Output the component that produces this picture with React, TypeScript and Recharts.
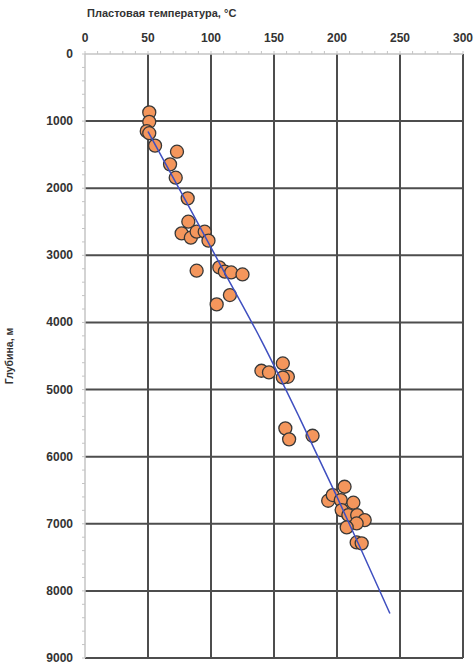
import { ScatterChart, Scatter, XAxis, YAxis, ReferenceLine } from 'recharts';

// Пластовая температура (°C) и глубина (м) по скважинам
const temps = [51, 51, 49, 51, 55.6, 73, 67.5, 72, 81.5, 82, 76.7, 84, 88.6, 95, 98, 88.6, 106.6, 111, 116, 125, 115, 104.5,
  140, 146, 157, 161, 157, 159, 162, 180.6,
  206, 193, 196.6, 203, 213, 203.7, 209, 216, 222, 215.6, 207.7, 215.6, 219.6];
const depths = [870, 1010, 1150, 1180, 1366, 1456, 1644, 1843, 2151, 2499, 2673, 2737, 2648, 2648, 2781, 3229, 3180, 3243, 3255, 3285, 3592, 3731,
  4720, 4745, 4611, 4810, 4820, 5578, 5742, 5688,
  6448, 6657, 6572, 6647, 6686, 6796, 6870, 6870, 6945, 6995, 7054, 7278, 7292];

// линия тренда
const trendT = [50, 80, 110, 140, 170, 200, 220, 242];
const trendD = [1155, 2190, 3230, 4270, 5410, 6600, 7420, 8336];

const xMajor = [0, 50, 100, 150, 200, 250, 300];
const yMajor = [0, 1000, 2000, 3000, 4000, 5000, 6000, 7000, 8000, 9000];
const xMinor = Array.from({ length: 31 }, (_, i) => i * 10);
const yMinor = Array.from({ length: 46 }, (_, i) => i * 200);

const points = temps.map((t, i) => ({ t, d: depths[i] }));
const trend = trendT.map((t, i) => ({ t, d: trendD[i] }));

const FONT = '"Liberation Sans", Arial, sans-serif';
const GRID = '#4d4d4d';
const AXIS = '#c4c4c4';

const XTick = ({ x, y, payload }: any) => {
  if (payload.value % 50 !== 0) return null;
  return (
    <text x={x} y={y - 1} textAnchor="middle" fontFamily={FONT} fontSize={12} fontWeight="bold" fill="#333">
      {payload.value}
    </text>
  );
};

const YTick = ({ x, y, payload }: any) => {
  if (payload.value % 1000 !== 0) return null;
  return (
    <text x={x} y={y + 4} textAnchor="end" fontFamily={FONT} fontSize={12} fontWeight="bold" fill="#333">
      {payload.value}
    </text>
  );
};

const Dot = ({ cx, cy }: any) => (
  <circle cx={cx} cy={cy} r={6.5} fill="#F4965C" stroke="#383838" strokeWidth={1.3} />
);

const YLabel = ({ viewBox }: any) => {
  const cy = viewBox.y + viewBox.height / 2;
  return (
    <text x={13} y={cy} transform={`rotate(-90, 13, ${cy})`} textAnchor="middle" fontFamily={FONT} fontSize={10.5} fontWeight="bold" fill="#333">
      Глубина, м
    </text>
  );
};

export default function App() {
  return (
    <div style={{ position: 'absolute', left: 0, top: 0, width: 475, height: 665, background: '#fff' }}>
      <div style={{ position: 'absolute', left: 87, top: 7, fontFamily: FONT, fontSize: 11, fontWeight: 'bold', color: '#333', whiteSpace: 'nowrap' }}>
        Пластовая температура, °С
      </div>
      <ScatterChart width={475} height={665} margin={{ top: 30, right: 12, bottom: 7, left: 0 }}>
        <XAxis
          type="number"
          dataKey="t"
          orientation="top"
          domain={[0, 300]}
          ticks={xMinor}
          interval={0}
          height={24}
          tick={<XTick />}
          tickSize={3}
          tickMargin={8}
          axisLine={{ stroke: AXIS, strokeWidth: 1.5 }}
          tickLine={{ stroke: AXIS }}
        />
        <YAxis
          type="number"
          dataKey="d"
          reversed
          domain={[0, 9000]}
          ticks={yMinor}
          interval={0}
          width={85}
          tick={<YTick />}
          tickSize={3}
          tickMargin={9}
          axisLine={{ stroke: AXIS, strokeWidth: 1.5 }}
          tickLine={{ stroke: AXIS }}
          label={<YLabel />}
        />
        {xMajor.slice(1).map((v) => (
          <ReferenceLine key={'x' + v} x={v} stroke={GRID} strokeWidth={2} />
        ))}
        {yMajor.slice(1).map((v) => (
          <ReferenceLine key={'y' + v} y={v} stroke={GRID} strokeWidth={2} />
        ))}
        <Scatter data={points} shape={<Dot />} isAnimationActive={false} />
        <Scatter
          data={trend}
          shape={() => null}
          line={{ stroke: '#3f4fc0', strokeWidth: 1.5 }}
          lineJointType="monotoneX"
          isAnimationActive={false}
        />
      </ScatterChart>
    </div>
  );
}
